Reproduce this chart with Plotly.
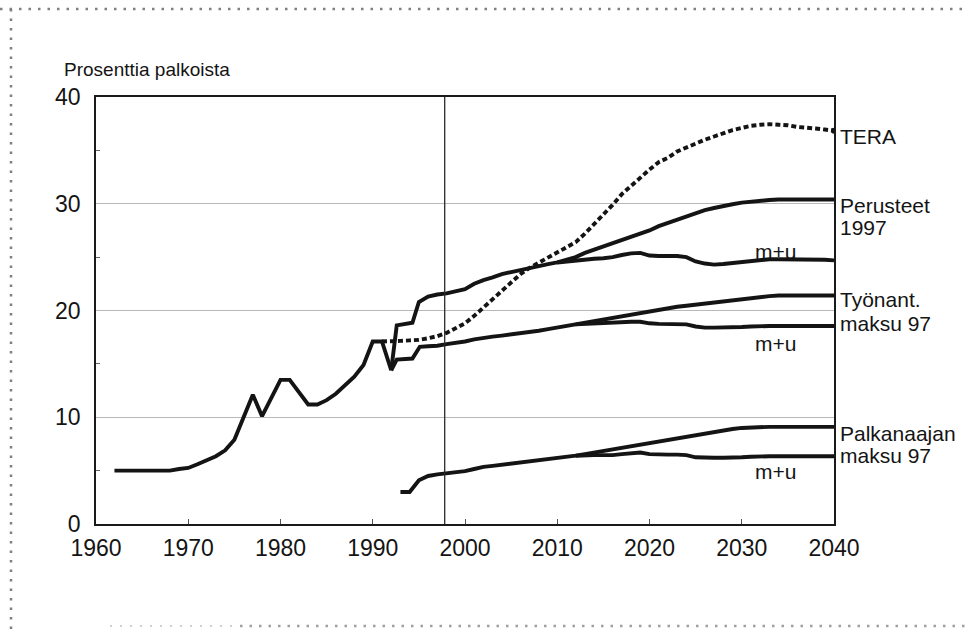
import plotly.graph_objects as go

# ---------------- data ----------------
hist_years = [1962, 1963, 1964, 1965, 1966, 1967, 1968, 1969, 1970, 1971, 1972, 1973, 1974,
              1975, 1976, 1977, 1978, 1979, 1980, 1981, 1982, 1983, 1984, 1985, 1986, 1987,
              1988, 1989, 1990, 1991, 1992]
hist_vals = [5.0, 5.0, 5.0, 5.0, 5.0, 5.0, 5.0, 5.15, 5.25, 5.6, 6.0, 6.35, 6.9,
             7.9, 10.0, 12.1, 10.1, 11.8, 13.5, 13.5, 12.4, 11.2, 11.2, 11.6, 12.2, 13.0,
             13.8, 14.9, 17.1, 17.1, 14.4]

perus_years = [1992, 1992.6, 1994.3, 1995, 1996, 1997, 1998, 1999, 2000, 2001, 2002, 2003,
               2004, 2005, 2006, 2007, 2008, 2009, 2010, 2011, 2012, 2013, 2014, 2015, 2016,
               2017, 2018, 2019, 2020, 2021, 2022, 2023, 2024, 2025, 2026, 2027, 2028, 2029,
               2030, 2031, 2032, 2033, 2034, 2035, 2036, 2037, 2038, 2039, 2040]
perus_vals = [14.4, 18.6, 18.85, 20.8, 21.3, 21.5, 21.6, 21.8, 22.0, 22.5, 22.85, 23.1,
              23.4, 23.6, 23.8, 24.0, 24.2, 24.35, 24.5, 24.75, 25.0, 25.4, 25.7, 26.0, 26.3,
              26.6, 26.9, 27.2, 27.5, 27.9, 28.2, 28.5, 28.8, 29.1, 29.4, 29.6, 29.8, 29.95,
              30.1, 30.2, 30.3, 30.35, 30.4, 30.4, 30.4, 30.4, 30.4, 30.4, 30.4]

mu_tot_years = [2010, 2011, 2012, 2013, 2014, 2015, 2016, 2017, 2018, 2019, 2020, 2021, 2022,
                2023, 2024, 2025, 2026, 2027, 2028, 2029, 2030, 2031, 2032, 2033, 2034, 2035,
                2036, 2037, 2038, 2039, 2040]
mu_tot_vals = [24.5, 24.6, 24.7, 24.8, 24.85, 24.9, 25.0, 25.2, 25.35, 25.4, 25.15, 25.1, 25.1,
               25.1, 25.0, 24.6, 24.4, 24.3, 24.35, 24.45, 24.55, 24.65, 24.75, 24.8, 24.8, 24.8,
               24.8, 24.8, 24.8, 24.75, 24.7]

tyo_years = [1992, 1992.6, 1994.3, 1995.1, 1996, 1997, 1998, 1999, 2000, 2001, 2002, 2003,
             2004, 2005, 2006, 2007, 2008, 2009, 2010, 2011, 2012, 2013, 2014, 2015, 2016,
             2017, 2018, 2019, 2020, 2021, 2022, 2023, 2024, 2025, 2026, 2027, 2028, 2029,
             2030, 2031, 2032, 2033, 2034, 2035, 2036, 2037, 2038, 2039, 2040]
tyo_vals = [14.4, 15.4, 15.5, 16.6, 16.65, 16.7, 16.85, 16.95, 17.1, 17.3, 17.45, 17.55,
            17.65, 17.75, 17.85, 17.95, 18.1, 18.25, 18.4, 18.55, 18.7, 18.85, 19.05, 19.2, 19.35,
            19.5, 19.65, 19.8, 19.95, 20.1, 20.2, 20.35, 20.45, 20.55, 20.65, 20.75, 20.9, 21.0,
            21.1, 21.2, 21.3, 21.35, 21.4, 21.4, 21.4, 21.4, 21.4, 21.4, 21.4]

mu_tyo_years = [2012, 2013, 2014, 2015, 2016, 2017, 2018, 2019, 2020, 2021, 2022, 2023, 2024,
                2025, 2026, 2027, 2028, 2029, 2030, 2031, 2032, 2033, 2034, 2035, 2036, 2037,
                2038, 2039, 2040]
mu_tyo_vals = [18.7, 18.75, 18.8, 18.8, 18.85, 18.9, 18.95, 18.95, 18.8, 18.75, 18.75, 18.75, 18.7,
               18.5, 18.4, 18.4, 18.4, 18.45, 18.45, 18.5, 18.55, 18.55, 18.55, 18.55, 18.55, 18.55,
               18.55, 18.55, 18.55]

palk_years = [1993, 1994, 1995, 1996, 1997, 1998, 1999, 2000, 2001, 2002, 2003, 2004, 2005,
              2006, 2007, 2008, 2009, 2010, 2011, 2012, 2013, 2014, 2015, 2016, 2017, 2018,
              2019, 2020, 2021, 2022, 2023, 2024, 2025, 2026, 2027, 2028, 2029, 2030, 2031,
              2032, 2033, 2034, 2035, 2036, 2037, 2038, 2039, 2040]
palk_vals = [3.0, 3.0, 4.1, 4.5, 4.65, 4.75, 4.85, 4.95, 5.15, 5.35, 5.45, 5.55, 5.65,
             5.75, 5.85, 5.95, 6.05, 6.15, 6.25, 6.4, 6.55, 6.7, 6.85, 7.0, 7.15, 7.3,
             7.45, 7.6, 7.75, 7.9, 8.05, 8.2, 8.35, 8.5, 8.65, 8.8, 8.9, 9.0, 9.05,
             9.1, 9.1, 9.1, 9.1, 9.1, 9.1, 9.1, 9.1, 9.1]

mu_palk_years = [2012, 2013, 2014, 2015, 2016, 2017, 2018, 2019, 2020, 2021, 2022, 2023, 2024,
                 2025, 2026, 2027, 2028, 2029, 2030, 2031, 2032, 2033, 2034, 2035, 2036, 2037,
                 2038, 2039, 2040]
mu_palk_vals = [6.4, 6.45, 6.45, 6.45, 6.45, 6.55, 6.65, 6.7, 6.55, 6.5, 6.5, 6.5, 6.45,
                6.25, 6.2, 6.2, 6.2, 6.2, 6.25, 6.3, 6.35, 6.35, 6.35, 6.35, 6.35, 6.35,
                6.35, 6.35, 6.35]

tera_years = [1991, 1992, 1993, 1994, 1995, 1996, 1997, 1998, 1999, 2000,
              2001, 2002, 2003, 2004, 2005, 2006, 2007, 2008, 2009, 2010,
              2011, 2012, 2013, 2014, 2015, 2016, 2017, 2018, 2019, 2020,
              2021, 2022, 2023, 2024, 2025, 2026, 2027, 2028, 2029, 2030,
              2031, 2032, 2033, 2034, 2035, 2036, 2037, 2038, 2039, 2040]
tera_vals = [17.1, 17.1, 17.15, 17.2, 17.25, 17.4, 17.6, 17.9, 18.3, 18.8,
             19.5, 20.3, 21.1, 21.9, 22.7, 23.4, 24.0, 24.5, 25.0, 25.4,
             25.9, 26.4, 27.2, 28.1, 28.9, 29.9, 30.9, 31.7, 32.5, 33.2,
             33.9, 34.3, 34.9, 35.3, 35.6, 36.0, 36.3, 36.6, 36.9, 37.1,
             37.3, 37.4, 37.45, 37.4, 37.35, 37.2, 37.15, 37.05, 36.95, 36.85]

x_ticks = [1960, 1970, 1980, 1990, 2000, 2010, 2020, 2030, 2040]
y_ticks = [0, 10, 20, 30, 40]
divider_year = 1997.8

# (text, x, y, xanchor)
labels = [
    ("TERA", 2040, 36.3, "left"),
    ("Perusteet", 2040, 29.8, "left"),
    ("1997", 2040, 27.75, "left"),
    ("Työnant.", 2040, 21.05, "left"),
    ("maksu 97", 2040, 18.8, "left"),
    ("Palkanaajan", 2040, 8.45, "left"),
    ("maksu 97", 2040, 6.4, "left"),
    ("m+u", 2033.7, 25.55, "center"),
    ("m+u", 2033.7, 16.9, "center"),
    ("m+u", 2033.7, 4.9, "center"),
]

# ---------------- figure ----------------
FONT = "Liberation Sans, Arial, Helvetica, sans-serif"
INK = "#141414"
LW = 3.9

fig = go.Figure()

solid = dict(color=INK, width=LW)
for xs, ys in [(hist_years, hist_vals), (perus_years, perus_vals), (mu_tot_years, mu_tot_vals),
               (tyo_years, tyo_vals), (mu_tyo_years, mu_tyo_vals),
               (palk_years, palk_vals), (mu_palk_years, mu_palk_vals)]:
    fig.add_trace(go.Scatter(x=xs, y=ys, mode="lines", line=solid, showlegend=False,
                             hoverinfo="skip"))

fig.add_trace(go.Scatter(x=tera_years, y=tera_vals, mode="lines",
                         line=dict(color=INK, width=LW, dash="5px,3px"),
                         showlegend=False, hoverinfo="skip"))
fig.add_trace(go.Scatter(x=[tera_years[-1]], y=[tera_vals[-1]], mode="markers",
                         marker=dict(color=INK, size=6), showlegend=False, hoverinfo="skip"))

for text, x, y, xa in labels:
    fig.add_annotation(x=x, y=y, xref="x", yref="y", text=text, showarrow=False,
                       xanchor=xa, yanchor="middle", xshift=4 if xa == "left" else 0,
                       font=dict(family=FONT, size=21, color=INK))

# plot-area pixel geometry
L, T, R, B = 96, 97, 834, 524
W, H = R - L, B - T
def px(xp):
    return (xp - L) / W
def py(yp):
    return (B - yp) / H

fig.add_annotation(x=px(62), y=py(70), xref="paper", yref="paper", text="Prosenttia palkoista",
                   showarrow=False, xanchor="left", yanchor="middle",
                   font=dict(family=FONT, size=19, color=INK))

# vertical divider
fig.add_shape(type="line", xref="x", yref="paper", x0=divider_year, x1=divider_year,
              y0=0, y1=1, line=dict(color="#2a2a2a", width=1.3))

# dotted frame (scanned page border)
frame = dict(color="#808080", width=2.5, dash="2.5px,7px")
fig.add_shape(type="line", xref="paper", yref="paper", x0=px(0), x1=px(968), y0=py(9), y1=py(9), line=frame)
fig.add_shape(type="line", xref="paper", yref="paper", x0=px(11), x1=px(11), y0=py(9), y1=py(629), line=frame)
fig.add_shape(type="line", xref="paper", yref="paper", x0=px(110), x1=px(240), y0=py(626), y1=py(626),
              line=dict(color="#d0d0d0", width=2, dash="2px,8px"))
fig.add_shape(type="line", xref="paper", yref="paper", x0=px(240), x1=px(968), y0=py(626), y1=py(626),
              line=dict(color="#a0a0a0", width=2.5, dash="2.5px,7px"))

fig.update_layout(
    width=968, height=629,
    margin=dict(l=L, r=968 - R, t=T, b=629 - B),
    paper_bgcolor="white", plot_bgcolor="white",
    font=dict(family=FONT, color=INK),
    showlegend=False,
)
fig.update_xaxes(range=[1960, 2040], tickvals=x_ticks, ticktext=[str(v) for v in x_ticks],
                 showgrid=False, zeroline=False, showline=True, linecolor="#1a1a1a", linewidth=2,
                 mirror=True, ticks="inside", ticklen=5, tickcolor="#555", tickwidth=1,
                 tickfont=dict(family=FONT, size=23, color=INK), ticklabelstandoff=2)
fig.update_yaxes(range=[0, 40], tickvals=y_ticks, ticktext=[str(v) for v in y_ticks],
                 showgrid=True, gridcolor="#b8b8b8", gridwidth=1, zeroline=False,
                 showline=True, linecolor="#1a1a1a", linewidth=1.6, mirror=True,
                 ticks="", tickfont=dict(family=FONT, size=23, color=INK), ticklabelstandoff=9,
                 minor=dict(tickvals=[5, 15, 25, 35], ticks="inside", ticklen=4,
                            tickcolor="#666", showgrid=False))

fig.write_html("out.html", config={"displayModeBar": False},
               post_script="document.body.style.margin='0';document.body.style.overflow='hidden';")
